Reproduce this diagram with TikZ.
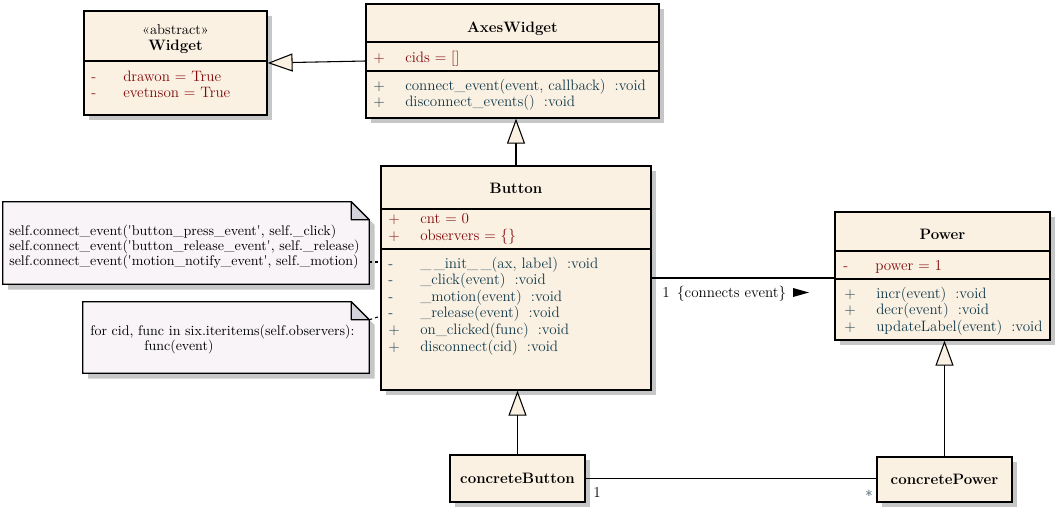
\documentclass[tikz,border=0pt]{standalone}
\usetikzlibrary{arrows.meta,shadows}
\definecolor{classfill}{HTML}{FBF1E3}
\definecolor{notefill}{HTML}{F8F4F8}
\definecolor{earfill}{HTML}{D3D1D9}
\definecolor{shadowgray}{HTML}{C6C6C6}
\definecolor{attrcol}{HTML}{800A0A}
\definecolor{methcol}{HTML}{10394A}
\newcommand{\visib}[1]{\makebox[24pt][l]{#1}}
\newcommand{\tq}{\textquotesingle}
\begin{document}
\begin{tikzpicture}[x=0.75pt,y=-0.75pt,
  classbox/.style={draw,fill=classfill,line width=0.9pt,inner sep=0,
    font=\fontsize{11.3}{13}\selectfont\bfseries,
    drop shadow={shadow xshift=4pt,shadow yshift=-4pt,fill=shadowgray,opacity=1}},
  txt/.style={inner sep=0,anchor=base west,font=\fontsize{11.3}{13}\selectfont},
  title/.style={inner sep=0,anchor=base,font=\fontsize{11.3}{13}\selectfont\bfseries},
  attr/.style={txt,text=attrcol},
  meth/.style={txt,text=methcol},
  notetxt/.style={inner sep=0,anchor=base west,font=\fontsize{10.5}{12}\selectfont},
  divider/.style={line width=0.9pt},
  gen/.style={line width=0.8pt,-{Triangle[open,fill=classfill,length=18.75pt,width=13.5pt]}},
  assoc/.style={line width=0.8pt},
  notelink/.style={line width=0.8pt,dash pattern=on 2.25pt off 2.25pt}]
\useasboundingbox (0,0) rectangle (1061,508);

\node[classbox,minimum width=137.25pt,minimum height=78pt] (widget) at (175.5,63) {};
\node[classbox,minimum width=219.75pt,minimum height=85.5pt] (axes) at (512.5,61) {};
\node[classbox,minimum width=202.5pt,minimum height=168pt] (button) at (516,278) {};
\node[classbox,minimum width=161.25pt,minimum height=96pt] (power) at (942.5,276) {};
\node[classbox,minimum width=101.25pt,minimum height=35.25pt] (cbutton) at (517.5,478.5) {concreteButton};
\node[classbox,minimum width=101.25pt,minimum height=33.75pt] (cpower) at (944.5,479.5) {concretePower};

\draw[divider] (widget.west |- 0,61) -- (widget.east |- 0,61);
\draw[divider] (axes.west |- 0,42) -- (axes.east |- 0,42);
\draw[divider] (axes.west |- 0,71) -- (axes.east |- 0,71);
\draw[divider] (button.west |- 0,209) -- (button.east |- 0,209);
\draw[divider] (button.west |- 0,249) -- (button.east |- 0,249);
\draw[divider] (power.west |- 0,251) -- (power.east |- 0,251);
\draw[divider] (power.west |- 0,279) -- (power.east |- 0,279);

\node[txt,anchor=base,font=\fontsize{10.7}{12}\selectfont] (wster) at (175.5,34) {«abstract»};
\node[title] (wname) at (175.5,50) {Widget};
\node[attr] (wa1) at (91,81) {\visib{-}drawon = True};
\node[attr] (wa2) at (91,97) {\visib{-}evetnson = True};

\node[title] (aname) at (512.5,32) {AxesWidget};
\node[attr] (aa1) at (373,62) {\visib{+}cids = []};
\node[meth] (am1) at (373,90) {\visib{+}connect\_event(event, callback)\hspace{0.6em}:void};
\node[meth] (am2) at (373,106) {\visib{+}disconnect\_events()\hspace{0.6em}:void};

\node[title] (bname) at (516,193) {Button};
\node[attr] (ba1) at (388,223) {\visib{+}cnt = 0};
\node[attr] (ba2) at (388,240) {\visib{+}observers = \{\}};
\node[meth] (bm1) at (388,268) {\visib{-}\_\,\_init\_\,\_(ax, label)\hspace{0.6em}:void};
\node[meth] (bm2) at (388,284.6) {\visib{-}\_click(event)\hspace{0.6em}:void};
\node[meth] (bm3) at (388,301.2) {\visib{-}\_motion(event)\hspace{0.6em}:void};
\node[meth] (bm4) at (388,317.8) {\visib{-}\_release(event)\hspace{0.6em}:void};
\node[meth] (bm5) at (388,334.4) {\visib{+}on\_clicked(func)\hspace{0.6em}:void};
\node[meth] (bm6) at (388,351) {\visib{+}disconnect(cid)\hspace{0.6em}:void};

\node[title] (pname) at (942.5,239) {Power};
\node[attr] (pa1) at (843,270) {\visib{-}power = 1};
\node[meth] (pm1) at (844,298) {\visib{+}incr(event)\hspace{0.6em}:void};
\node[meth] (pm2) at (844,314.5) {\visib{+}decr(event)\hspace{0.6em}:void};
\node[meth] (pm3) at (844,331) {\visib{+}updateLabel(event)\hspace{0.6em}:void};

\node[inner sep=0,minimum width=274.5pt,minimum height=61.5pt] (note1) at (186,243) {};
\node[inner sep=0,minimum width=214.5pt,minimum height=53.25pt] (note2) at (226,337.5) {};
\fill[shadowgray,transform canvas={xshift=4pt,yshift=-4pt}] (note1.north west) -- ([xshift=-13.5pt]note1.north east) -- ([yshift=-13.5pt]note1.north east) -- (note1.south east) -- (note1.south west) -- cycle;
\fill[shadowgray,transform canvas={xshift=4pt,yshift=-4pt}] (note2.north west) -- ([xshift=-13.5pt]note2.north east) -- ([yshift=-13.5pt]note2.north east) -- (note2.south east) -- (note2.south west) -- cycle;
\filldraw[fill=notefill,line width=0.9pt] (note1.north west) -- ([xshift=-13.5pt]note1.north east) -- ([yshift=-13.5pt]note1.north east) -- (note1.south east) -- (note1.south west) -- cycle;
\filldraw[fill=notefill,line width=0.9pt] (note2.north west) -- ([xshift=-13.5pt]note2.north east) -- ([yshift=-13.5pt]note2.north east) -- (note2.south east) -- (note2.south west) -- cycle;
\filldraw[fill=earfill,line width=0.9pt,line join=round] ([xshift=-13.5pt]note1.north east) -- ([yshift=-13.5pt]note1.north east) -- ([xshift=-13.5pt,yshift=-13.5pt]note1.north east) -- cycle;
\filldraw[fill=earfill,line width=0.9pt,line join=round] ([xshift=-13.5pt]note2.north east) -- ([yshift=-13.5pt]note2.north east) -- ([xshift=-13.5pt,yshift=-13.5pt]note2.north east) -- cycle;

\node[notetxt] (n1l1) at (9,235.5) {self.connect\_event(\tq button\_press\_event\tq, self.\_click)};
\node[notetxt] (n1l2) at (9,250.5) {self.connect\_event(\tq button\_release\_event\tq, self.\_release)};
\node[notetxt] (n1l3) at (9,265.5) {self.connect\_event(\tq motion\_notify\_event\tq, self.\_motion)};
\node[notetxt] (n2l1) at (90,335) {for cid, func in six.iteritems(self.observers):};
\node[notetxt] (n2l2) at (144,350) {func(event)};

\coordinate (n1e) at (369,262);
\coordinate (n2b) at (381,316);
\draw[notelink] (n1e) -- (n1e -| button.west);
\draw[notelink] ([yshift=-13.5pt]note2.north east) -- (n2b);

\draw[gen] (axes.west) -- (widget.east);
\draw[gen] (button.north) -- (button.north |- axes.south);
\draw[gen] (cbutton.north) -- (cbutton.north |- button.south);
\draw[gen] (cpower.north) -- (cpower.north |- power.south);
\draw[assoc] (button.east) -- (button.east -| power.west);
\draw[assoc] (cbutton.east) -- (cbutton.east -| cpower.west);

\node[txt] (conn) at (662,297) {1\hspace{0.5em}\{connects event\}};
\fill (793,288) -- (809,292.5) -- (793,297) -- cycle;
\node[txt] (cbmul) at (593,497) {1};
\node[txt,text=methcol] (cpmul) at (865,501) {*};
\end{tikzpicture}
\end{document}
